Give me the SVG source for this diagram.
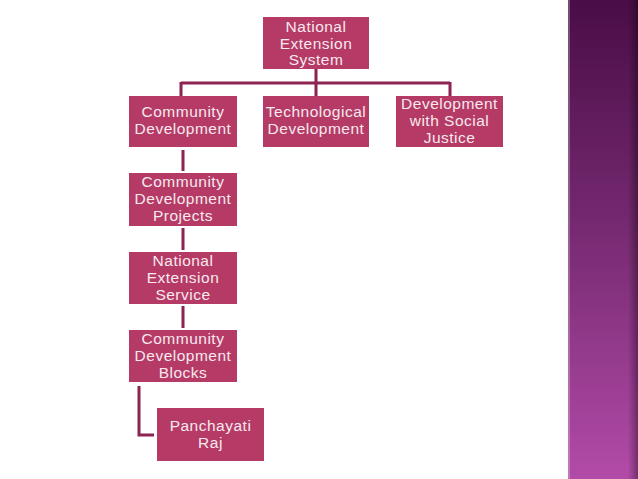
<svg xmlns="http://www.w3.org/2000/svg" width="638" height="479" viewBox="0 0 638 479">
<defs>
<linearGradient id="side" x1="0" y1="0" x2="0" y2="1">
<stop offset="0" stop-color="#4a0d47"/>
<stop offset="0.45" stop-color="#73286e"/>
<stop offset="1" stop-color="#b24ba8"/>
</linearGradient>
<linearGradient id="edge" x1="0" y1="0" x2="1" y2="0">
<stop offset="0" stop-color="#000" stop-opacity="0"/>
<stop offset="1" stop-color="#000" stop-opacity="0.35"/>
</linearGradient>
</defs>
<style>
.box{fill:#b53a66;}
.t{font-family:"Liberation Sans",Arial,sans-serif;font-size:15.5px;letter-spacing:0.5px;fill:#f7e9ee;text-anchor:middle;}
.c{stroke:#8c2350;stroke-width:3;fill:none;}
</style>
<rect width="638" height="479" fill="#ffffff"/>
<rect x="568" y="0" width="70" height="479" fill="url(#side)"/>
<rect x="628" y="0" width="10" height="479" fill="url(#edge)"/>
<rect x="568" y="0" width="2" height="479" fill="#ffffff" opacity="0.25"/>
<g id="connectors">
<path class="c" d="M316 69 V83 M181 83 H450 M181 82 V96 M316 82 V96 M450 82 V96"/>
<path class="c" d="M183 150 V171 M183 228 V250 M183 306 V328"/>
<path class="c" d="M139 386 V435 H154"/>
</g>
<g id="n1"><rect class="box" x="263" y="17" width="106" height="52"/>
<text class="t"><tspan x="316" y="32">National</tspan><tspan x="316" y="49">Extension</tspan><tspan x="316" y="65">System</tspan></text></g>
<g id="n2"><rect class="box" x="129" y="96" width="108" height="51"/>
<text class="t"><tspan x="183" y="117">Community</tspan><tspan x="183" y="134">Development</tspan></text></g>
<g id="n3"><rect class="box" x="263" y="96" width="106" height="51"/>
<text class="t"><tspan x="316" y="117">Technological</tspan><tspan x="316" y="134">Development</tspan></text></g>
<g id="n4"><rect class="box" x="396" y="96" width="107" height="51"/>
<text class="t"><tspan x="449.5" y="109">Development</tspan><tspan x="449.5" y="126">with Social</tspan><tspan x="449.5" y="143">Justice</tspan></text></g>
<g id="n5"><rect class="box" x="129" y="173" width="108" height="53"/>
<text class="t"><tspan x="183" y="187">Community</tspan><tspan x="183" y="204">Development</tspan><tspan x="183" y="221">Projects</tspan></text></g>
<g id="n6"><rect class="box" x="129" y="252" width="108" height="52"/>
<text class="t"><tspan x="183" y="266">National</tspan><tspan x="183" y="283">Extension</tspan><tspan x="183" y="300">Service</tspan></text></g>
<g id="n7"><rect class="box" x="129" y="330" width="108" height="52"/>
<text class="t"><tspan x="183" y="344">Community</tspan><tspan x="183" y="361">Development</tspan><tspan x="183" y="378">Blocks</tspan></text></g>
<g id="n8"><rect class="box" x="157" y="408" width="107" height="53"/>
<text class="t"><tspan x="210.5" y="431">Panchayati</tspan><tspan x="210.5" y="448">Raj</tspan></text></g>
</svg>
